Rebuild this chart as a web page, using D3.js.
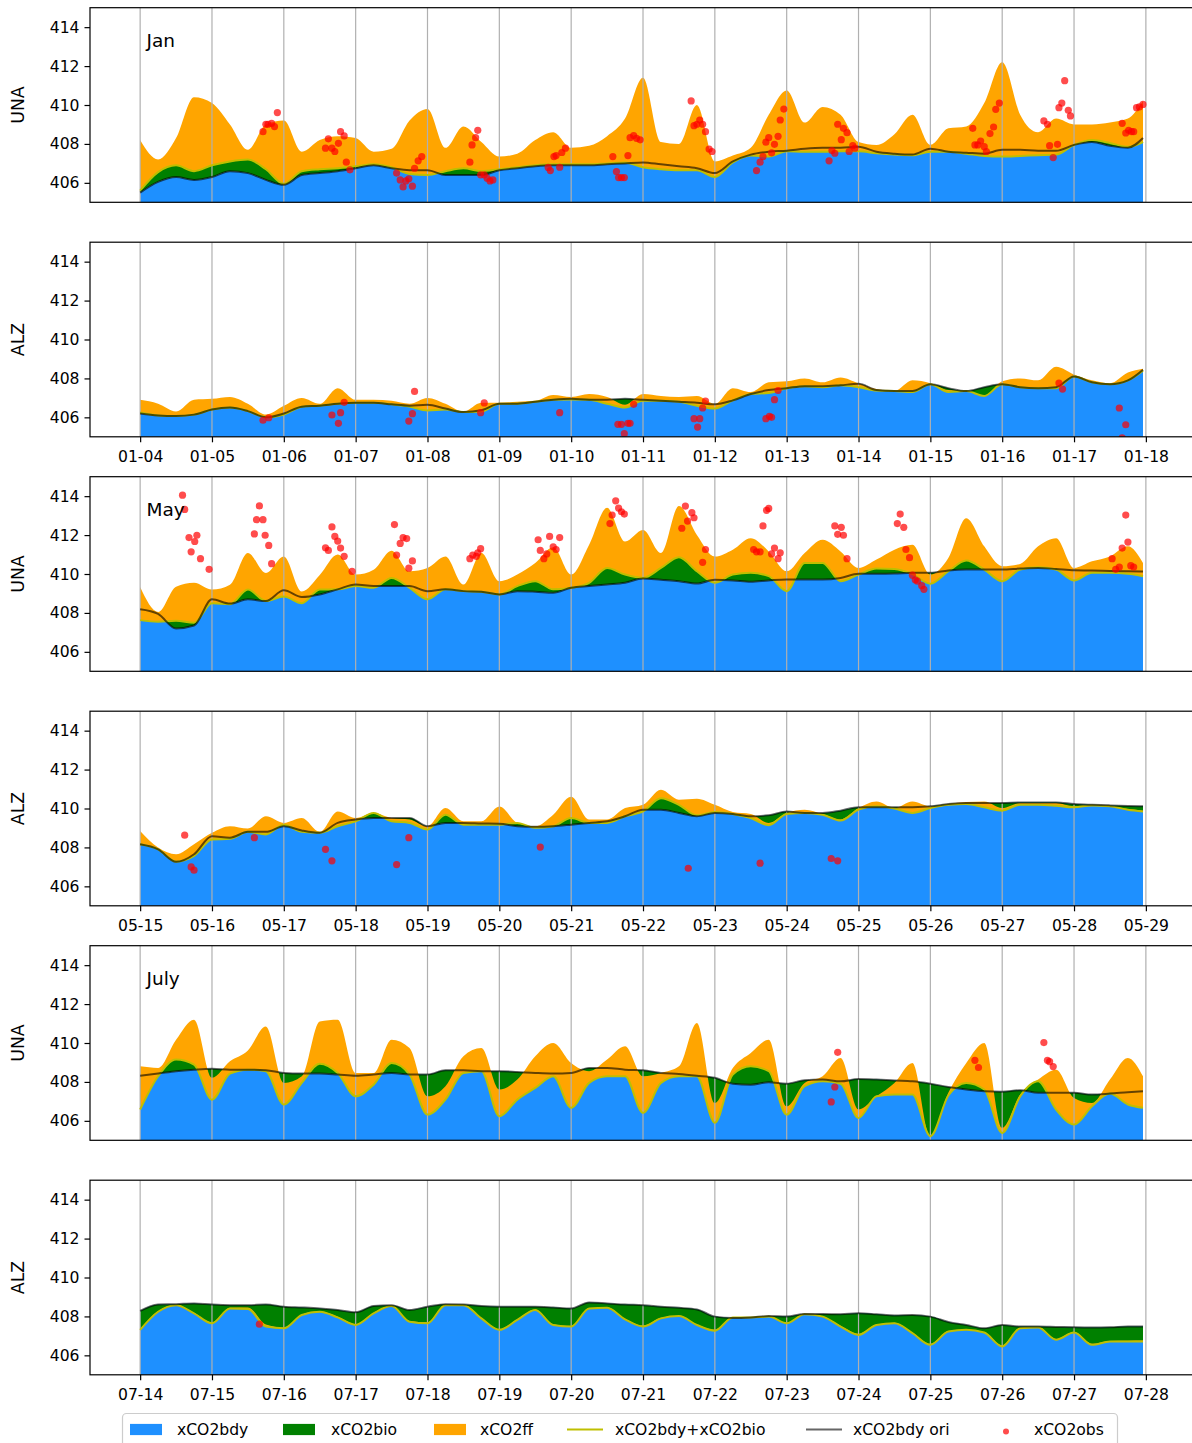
<!DOCTYPE html>
<html><head><meta charset="utf-8">
<script src="https://cdn.jsdelivr.net/npm/d3@7"></script>
<style>body{margin:0;background:#fff;} svg{display:block;font-family:"DejaVu Sans",sans-serif;}</style>
</head><body><svg id="c" width="1192" height="1443"></svg>
<script>
// ---------------- DATA ----------------
// sample times: days since the first day of each period (6-hourly)
const sampleDays = d3.range(56).map(i => i / 4).concat([13.96]);
const janTicks = ["01-04","01-05","01-06","01-07","01-08","01-09","01-10","01-11","01-12","01-13","01-14","01-15","01-16","01-17","01-18"];
const mayTicks = ["05-15","05-16","05-17","05-18","05-19","05-20","05-21","05-22","05-23","05-24","05-25","05-26","05-27","05-28","05-29"];
const julTicks = ["07-14","07-15","07-16","07-17","07-18","07-19","07-20","07-21","07-22","07-23","07-24","07-25","07-26","07-27","07-28"];
const yTicks = [406, 408, 410, 412, 414];

// Jan, UNA
const janUNA_bdy = [405.5,406.05,406.3,406.15,406.3,406.6,406.5,406.15,405.9,406.4,406.5,406.6,406.75,406.9,406.75,406.65,406.65,406.4,406.4,406.4,406.65,406.75,406.85,406.9,406.9,406.9,406.95,407.0,407.05,406.95,406.85,406.75,406.5,407.1,407.45,407.6,407.65,407.75,407.8,407.8,407.85,407.6,407.5,407.45,407.75,407.6,407.55,407.5,407.7,407.7,407.65,407.65,407.95,408.1,407.9,407.8,408.3];
const janUNA_bio = [0.1,0.5,0.6,0.45,0.6,0.5,0.7,0.55,0.05,0.2,0.2,0.15,0.1,0.05,0.05,-0.2,-0.25,0.2,0.35,0.2,0.05,0.05,0.05,0.05,0.05,0.05,0.05,0.05,-0.25,-0.25,-0.2,-0.1,-0.2,-0.05,-0.05,-0.25,-0.03,-0.15,-0.2,-0.18,-0.23,-0.08,-0.05,-0.03,-0.15,0,-0.05,-0.12,-0.35,-0.32,-0.23,-0.2,0,0.1,0.15,0.05,-0.2];
const janUNA_ff = [2.6,0.65,1.4,3.8,3.2,1.9,0.5,2.3,3.25,1.0,1.5,1.65,1.45,0.65,0.95,2.75,3.4,1.2,2.15,1.5,0.65,0.7,1.3,1.65,0.85,0.95,1.4,2.25,4.6,1.4,1.35,3.35,0.8,0.35,0.4,2.15,3.13,1.5,2.3,1.88,0.48,0.43,1.05,2.08,0.35,1.2,1.4,2.72,4.85,2.12,1.18,1.85,1.05,0.8,1.05,1.45,2.1];
const janUNA_ori = [405.5,406.05,406.3,406.15,406.3,406.6,406.5,406.15,405.9,406.4,406.5,406.6,406.75,406.9,406.75,406.65,406.65,406.4,406.4,406.4,406.65,406.75,406.85,406.9,406.9,406.9,406.95,407.0,407.05,406.95,406.85,406.75,406.5,407.1,407.45,407.6,407.65,407.75,407.8,407.8,407.85,407.6,407.5,407.45,407.75,407.6,407.55,407.5,407.7,407.7,407.65,407.65,407.95,408.1,407.9,407.8,408.3];
const janUNA_obs = [[1.71,408.63],[1.75,409.01],[1.78,409.01],[1.83,409.06],[1.87,408.89],[1.91,409.61],[2.58,407.78],[2.62,408.26],[2.67,407.78],[2.71,407.61],[2.76,408.03],[2.79,408.63],[2.84,408.41],[2.87,407.06],[2.92,406.67],[3.57,406.5],[3.62,406.15],[3.66,405.79],[3.7,406.1],[3.74,406.21],[3.79,405.83],[3.82,406.75],[3.87,407.13],[3.92,407.35],[4.59,407.06],[4.62,407.95],[4.67,408.32],[4.7,408.7],[4.74,406.41],[4.79,406.41],[4.83,406.24],[4.87,406.1],[4.91,406.15],[5.68,406.79],[5.71,406.63],[5.76,407.35],[5.79,407.4],[5.84,406.8],[5.87,407.56],[5.92,407.78],[6.58,407.35],[6.63,406.58],[6.66,406.27],[6.7,406.27],[6.74,406.27],[6.79,407.4],[6.82,408.32],[6.87,408.43],[6.91,408.29],[6.96,408.21],[7.67,410.21],[7.71,408.94],[7.75,409.01],[7.79,409.23],[7.83,409.01],[7.87,408.63],[7.92,407.74],[7.96,407.61],[8.58,406.63],[8.63,407.06],[8.67,407.35],[8.71,408.09],[8.75,408.32],[8.79,407.54],[8.83,407.98],[8.88,408.39],[8.91,409.23],[8.96,409.79],[9.59,407.13],[9.63,407.66],[9.67,407.52],[9.71,409.01],[9.76,408.22],[9.79,408.8],[9.84,408.58],[9.87,407.61],[9.92,407.91],[9.95,407.78],[11.59,408.8],[11.62,407.95],[11.66,407.95],[11.7,408.15],[11.75,407.86],[11.78,407.61],[11.83,408.53],[11.88,408.87],[11.91,409.78],[11.96,410.1],[12.58,409.18],[12.63,409.01],[12.66,407.91],[12.71,407.3],[12.77,407.98],[12.79,409.86],[12.83,410.1],[12.87,411.25],[12.92,409.73],[12.95,409.44],[13.67,409.06],[13.72,408.56],[13.76,408.7],[13.8,408.63],[13.83,408.63],[13.87,409.86],[13.91,409.9],[13.96,410.03]];

// Jan, ALZ
const janALZ_bdy = [406.2,406.1,406.07,406.14,406.4,406.5,406.32,406.0,406.2,406.55,406.6,406.7,406.75,406.75,406.67,406.6,406.65,406.45,406.27,406.36,406.7,406.7,406.8,406.9,406.95,406.9,406.9,406.95,406.9,406.85,406.8,406.75,406.67,406.87,407.2,407.4,407.5,407.6,407.6,407.65,407.72,407.4,407.35,407.35,407.7,407.5,407.35,407.55,407.7,407.55,407.5,407.55,408.1,407.8,407.7,407.9,408.45];
const janALZ_bio = [0.05,0,0,0,0,0,0,0,-0.05,0,0,0,0,0,0,-0.05,-0.3,-0.05,0,-0.06,0,0,0,0,-0.03,0,-0.2,-0.45,-0.05,0,0,-0.15,-0.22,0,0,-0.15,0,0,-0.05,0,-0.17,-0.02,0,-0.05,0,-0.2,0,-0.45,0,0,0,-0.05,0,0,0,0,-0.05];
const janALZ_ff = [0.65,0.6,0.23,0.76,0.55,0.55,0.38,0.15,0.45,0.45,0.1,0.8,0.15,0.15,0.18,0.15,0.65,0.3,0.03,0.45,0.05,0.1,0.05,0.25,0.13,0.3,0.35,0.15,0.35,0.25,0.25,0.5,0.25,0.63,0.1,0.55,0.35,0.4,0.25,0.4,0.2,0.07,0,0.6,0.05,0.1,0,0,0.15,0.45,0.4,1.1,0.1,0.1,0.05,0.4,0.1];
const janALZ_ori = [406.2,406.1,406.07,406.14,406.4,406.5,406.32,406.0,406.2,406.55,406.6,406.7,406.75,406.75,406.67,406.6,406.65,406.45,406.27,406.36,406.7,406.7,406.8,406.9,406.95,406.9,406.9,406.95,406.9,406.85,406.8,406.75,406.67,406.87,407.2,407.4,407.5,407.6,407.6,407.65,407.72,407.4,407.35,407.35,407.7,407.5,407.35,407.55,407.7,407.55,407.5,407.55,408.1,407.8,407.7,407.9,408.45];
const janALZ_obs = [[1.71,405.85],[1.79,405.98],[2.67,406.12],[2.76,405.69],[2.79,406.24],[2.84,406.77],[3.74,405.81],[3.79,406.19],[3.82,407.33],[4.74,406.24],[4.79,406.74],[5.84,406.24],[6.65,405.64],[6.7,405.64],[6.74,405.16],[6.79,405.69],[6.82,405.69],[6.87,406.67],[7.71,405.93],[7.79,405.93],[7.76,405.5],[7.83,406.48],[7.87,406.84],[8.71,405.93],[8.76,406.05],[8.79,406.0],[8.83,406.91],[8.88,407.38],[12.79,407.76],[12.84,407.45],[13.63,406.48],[13.72,405.62],[13.67,404.95]];

// May, UNA
const mayUNA_bdy = [408.19,407.95,407.2,407.35,408.7,408.48,408.7,408.61,409.16,408.82,408.95,409.21,409.46,409.38,409.38,409.38,409.12,409.21,409.12,409.09,408.95,409.12,409.09,409.04,409.29,409.38,409.46,409.55,409.77,409.7,409.63,409.51,409.7,409.67,409.6,409.67,409.72,409.72,409.72,409.8,410.01,410.01,410.02,410.06,410.06,410.18,410.23,410.23,410.23,410.28,410.31,410.26,410.19,410.18,410.16,410.14,410.13];
const mayUNA_bio = [-0.56,-0.4,0.4,0.15,-0.2,-0.03,0.5,0,-0.31,-0.32,0.25,0,-0.08,-0.09,0.42,-0.09,-0.42,0,0,0,0,0.26,0.54,0.17,0,0.17,0.85,0.42,0.03,0.61,1.23,0.63,-0.15,0.3,0.46,0.22,-0.6,0.85,0.85,-0.17,-0.04,0.27,0.24,-0.06,-0.56,-0.04,0.46,0,-0.6,-0.05,0.04,-0.03,-0.52,-0.12,-0.1,-0.13,-0.24];
const mayUNA_ff = [1.7,0.5,1.75,2.05,0.7,1.0,1.88,1.44,2.05,0.6,0.75,1.79,0.59,0.93,1.4,0.85,1.61,1.69,0.34,1.99,0.68,0.59,0.93,2.16,0.68,1.95,3.09,1.7,2.46,0.77,2.64,1.87,1.35,1.28,1.78,1.27,1.02,0.51,1.19,1.53,0.34,0.46,0.99,1.5,0.47,0.68,2.17,1.19,0.77,0.29,1.07,1.61,0.64,0.59,0.84,1.41,0.68];
const mayUNA_ori = [408.19,407.95,407.2,407.35,408.7,408.48,408.7,408.61,409.16,408.82,408.95,409.21,409.46,409.38,409.38,409.38,409.12,409.21,409.12,409.09,408.95,409.12,409.09,409.04,409.29,409.38,409.46,409.55,409.77,409.7,409.63,409.51,409.7,409.67,409.6,409.67,409.72,409.72,409.72,409.8,410.01,410.01,410.02,410.06,410.06,410.18,410.23,410.23,410.23,410.28,410.31,410.26,410.19,410.18,410.16,410.14,410.13];
const mayUNA_obs = [[0.59,414.05],[0.62,413.32],[0.68,411.87],[0.71,411.14],[0.76,411.67],[0.79,411.99],[0.84,410.79],[0.96,410.24],[1.59,412.06],[1.62,412.79],[1.66,413.5],[1.71,412.79],[1.74,411.99],[1.79,411.47],[1.83,410.53],[2.58,411.35],[2.62,411.21],[2.67,412.42],[2.71,411.93],[2.75,411.69],[2.79,411.33],[2.84,410.91],[2.95,410.13],[3.54,412.54],[3.57,410.97],[3.62,411.57],[3.66,411.87],[3.71,411.82],[3.74,410.3],[3.79,410.67],[4.59,410.79],[4.63,410.97],[4.68,410.91],[4.7,411.09],[4.74,411.3],[5.54,411.76],[5.57,411.21],[5.62,410.79],[5.66,411.03],[5.7,411.93],[5.75,411.4],[5.79,411.26],[5.84,411.87],[6.54,412.59],[6.57,413.03],[6.62,413.76],[6.66,413.39],[6.7,413.2],[6.74,413.08],[7.54,412.35],[7.59,413.49],[7.62,412.72],[7.68,413.15],[7.71,412.89],[7.83,410.6],[7.87,411.26],[8.54,411.26],[8.58,411.14],[8.63,411.14],[8.67,412.47],[8.72,413.27],[8.75,413.37],[8.79,411.03],[8.83,411.33],[8.88,410.79],[8.91,411.09],[9.67,412.47],[9.71,412.04],[9.76,412.4],[9.79,411.99],[9.84,410.79],[10.54,412.59],[10.58,413.08],[10.63,412.4],[10.66,411.26],[10.71,410.84],[10.75,409.94],[10.79,409.7],[10.82,409.63],[10.88,409.4],[10.91,409.21],[13.53,410.79],[13.58,410.24],[13.63,410.36],[13.67,411.33],[13.72,413.03],[13.75,411.64],[13.79,410.43],[13.83,410.36]];

// May, ALZ
const mayALZ_bdy = [408.16,407.9,407.26,407.65,408.58,408.5,408.8,408.8,409.09,408.87,408.75,409.26,409.43,409.51,409.51,409.51,409.09,409.26,409.26,409.23,409.21,409.09,409.06,409.09,409.17,409.26,409.34,409.6,409.94,409.94,409.77,409.6,409.77,409.72,409.6,409.65,409.85,409.77,409.77,409.89,410.07,410.06,410.06,410.07,410.11,410.23,410.28,410.28,410.28,410.31,410.31,410.31,410.23,410.19,410.16,410.13,410.11];
const mayALZ_bio = [0,0,0.01,-0.09,-0.17,-0.06,0,-0.13,0.08,-0.07,0,-0.17,-0.09,0.26,-0.17,-0.25,-0.17,0.42,-0.09,-0.06,-0.04,0.17,-0.05,0,0.34,0,-0.08,0,-0.09,0.59,0.42,0.05,0.05,0,-0.09,-0.51,-0.13,0,-0.09,-0.51,-0.13,0.05,-0.06,-0.3,-0.09,-0.04,-0.05,-0.22,-0.39,-0.12,-0.12,-0.17,-0.17,-0.03,-0.05,-0.19,-0.26];
const mayALZ_ff = [0.68,0.09,0.38,0.6,0.34,0.65,0.17,0.93,0.09,0.71,0.05,0.76,0.17,0,0.17,0.17,0.17,0.34,0.17,0.17,0.93,0,0.08,0.59,1.09,0.17,0.17,0.42,0.34,0.43,0.26,0.85,0.37,0.1,0.21,0.12,0.05,0.17,0.04,0.05,0.08,0.25,0.02,0.59,0.09,0.04,0.1,0.3,0.13,0.09,0.09,0.14,0.05,0.03,0,0.03,0.04];
const mayALZ_ori = [408.16,407.9,407.26,407.65,408.58,408.5,408.8,408.8,409.09,408.87,408.75,409.26,409.43,409.51,409.51,409.51,409.09,409.26,409.26,409.23,409.21,409.09,409.06,409.09,409.17,409.26,409.34,409.6,409.94,409.94,409.77,409.6,409.77,409.72,409.6,409.65,409.85,409.77,409.77,409.89,410.07,410.06,410.06,410.07,410.11,410.23,410.28,410.28,410.28,410.31,410.31,410.31,410.23,410.19,410.16,410.13,410.11];
const mayALZ_obs = [[0.62,408.63],[0.71,407.0],[0.75,406.83],[1.59,408.5],[2.58,407.9],[2.67,407.31],[3.57,407.12],[3.74,408.5],[5.57,408.02],[7.63,406.93],[8.63,407.19],[9.62,407.43],[9.71,407.31]];

// July, UNA
const julUNA_bdy = [408.32,408.43,408.55,408.63,408.68,408.63,408.63,408.6,408.46,408.43,408.43,408.38,408.32,408.38,408.46,408.38,408.38,408.6,408.6,408.55,408.55,408.51,408.46,408.43,408.46,408.72,408.72,408.63,408.6,408.46,408.41,408.32,408.21,407.91,407.86,407.98,407.91,408.09,408.12,408.03,408.15,408.12,408.07,408.03,407.91,407.74,407.61,407.52,407.5,407.57,407.44,407.44,407.44,407.35,407.4,407.47,407.52];
const julUNA_bio = [-1.74,-0.14,0.6,0.26,-1.59,-0.2,0,-0.05,-1.62,-0.48,0.51,0.08,-1.06,-0.52,0.51,0,-2.06,-1.51,-0.14,0,-2.31,-1.42,-0.77,-0.14,-1.79,-0.77,-0.43,-0.34,-2.19,-0.51,-0.12,-0.03,-2.31,0.47,0.94,0.57,-1.59,-0.31,-0.09,-0.12,-2.0,-0.86,-0.72,-0.68,-2.7,-0.44,0.34,0.09,-2.12,-0.31,0.59,-0.86,-1.63,-0.6,0,-0.63,-0.85];
const julUNA_ff = [2.22,0.43,1.02,2.31,1.12,0.63,0.99,2.3,1.11,0.34,2.17,2.74,1.2,0.6,1.2,1.36,0.94,0.69,0.86,1.19,1.37,1.03,1.63,1.71,2.3,0.6,0.86,1.54,1.88,0.51,0.51,2.74,1.02,0.34,0.69,1.62,0.43,0.17,0.26,1.32,0.43,0,0.6,1.62,0,0.14,1.02,2.39,0.26,0.09,0.09,2.05,1.37,0.17,0.72,2.39,1.62];
const julUNA_ori = [408.32,408.43,408.55,408.63,408.68,408.63,408.63,408.6,408.46,408.43,408.43,408.38,408.32,408.38,408.46,408.38,408.38,408.6,408.6,408.55,408.55,408.51,408.46,408.43,408.46,408.72,408.72,408.63,408.6,408.46,408.41,408.32,408.21,407.91,407.86,407.98,407.91,408.09,408.12,408.03,408.15,408.12,408.07,408.03,407.91,407.74,407.61,407.52,407.5,407.57,407.44,407.44,407.44,407.35,407.4,407.47,407.52];
const julUNA_obs = [[9.62,406.97],[9.67,407.74],[9.71,409.52],[11.62,409.11],[11.67,408.74],[12.58,410.02],[12.63,409.11],[12.66,409.04],[12.71,408.79]];

// July, ALZ
const julALZ_bdy = [408.28,408.61,408.63,408.67,408.61,408.58,408.58,408.61,408.5,408.46,408.41,408.33,408.21,408.53,408.58,408.33,408.5,408.63,408.61,408.53,408.5,408.5,408.5,408.46,408.41,408.72,408.67,408.61,408.58,408.5,408.44,408.36,407.99,407.92,407.95,408.02,407.99,408.12,408.12,408.11,408.16,408.11,408.05,408.07,407.99,407.71,407.56,407.39,407.56,407.48,407.48,407.46,407.44,407.43,407.44,407.48,407.48];
const julALZ_bio = [-0.97,-0.37,-0.05,-0.51,-0.96,-0.17,-0.2,-1.13,-1.11,-0.39,-0.17,-0.38,-0.65,-0.37,-0.05,-0.6,-0.85,-0.05,-0.03,-0.63,-1.19,-0.68,-0.17,-0.9,-0.93,-0.31,-0.23,-0.76,-1.1,-0.6,-0.42,-0.8,-0.72,0.03,-0.01,-0.03,-0.34,-0.01,-0.13,-0.63,-1.11,-0.55,-0.4,-0.93,-1.45,-0.49,-0.25,-0.22,-1.1,-0.09,-0.05,-0.66,-0.27,-0.89,-0.73,-0.77,-0.77];
const julALZ_ff = [0.03,0.02,0.02,0.03,0.04,0.03,0.08,0.1,0.03,0.02,0.02,0.03,0.04,0.03,0.02,0.03,0.05,0.02,0.02,0.03,0.04,0.03,0.02,0.04,0.03,0.02,0.02,0.03,0.05,0.03,0.02,0.03,0.05,0.02,0.02,0.02,0.03,0.02,0.02,0.04,0.06,0.03,0.02,0.03,0.05,0.03,0.02,0.02,0.06,0.02,0.02,0.04,0.03,0.05,0.03,0.04,0.05];
const julALZ_ori = [408.28,408.61,408.63,408.67,408.61,408.58,408.58,408.61,408.5,408.46,408.41,408.33,408.21,408.53,408.58,408.33,408.5,408.63,408.61,408.53,408.5,408.5,408.5,408.46,408.41,408.72,408.67,408.61,408.58,408.5,408.44,408.36,407.99,407.92,407.95,408.02,407.99,408.12,408.12,408.11,408.16,408.11,408.05,408.07,407.99,407.71,407.56,407.39,407.56,407.48,407.48,407.46,407.44,407.43,407.44,407.48,407.48];
const julALZ_obs = [[1.66,407.6]];

const legendLabels = ["xCO2bdy","xCO2bio","xCO2ff","xCO2bdy+xCO2bio","xCO2bdy ori","xCO2obs"];

// ---------------- CHART ----------------
const panels = [
  {site:"UNA", month:"Jan", bdy:janUNA_bdy, bio:janUNA_bio, ff:janUNA_ff, ori:janUNA_ori, obs:janUNA_obs, ticks:null},
  {site:"ALZ", month:null, bdy:janALZ_bdy, bio:janALZ_bio, ff:janALZ_ff, ori:janALZ_ori, obs:janALZ_obs, ticks:janTicks},
  {site:"UNA", month:"May", bdy:mayUNA_bdy, bio:mayUNA_bio, ff:mayUNA_ff, ori:mayUNA_ori, obs:mayUNA_obs, ticks:null},
  {site:"ALZ", month:null, bdy:mayALZ_bdy, bio:mayALZ_bio, ff:mayALZ_ff, ori:mayALZ_ori, obs:mayALZ_obs, ticks:mayTicks},
  {site:"UNA", month:"July", bdy:julUNA_bdy, bio:julUNA_bio, ff:julUNA_ff, ori:julUNA_ori, obs:julUNA_obs, ticks:null},
  {site:"ALZ", month:null, bdy:julALZ_bdy, bio:julALZ_bio, ff:julALZ_ff, ori:julALZ_ori, obs:julALZ_obs, ticks:julTicks}
];

const C = {blue:"#1e90ff", green:"#008000", orange:"#ffa500", yellow:"#bfbf00", ori:"#000", obs:"#ff0000", grid:"#b0b0b0"};
const plotLeft = 90, plotRight = 1193, panelH = 194.6;
const panelTops = [7.7, 242.2, 476.7, 711.2, 945.7, 1180.2];
const x = d3.scaleLinear().domain([-0.698, 14.656]).range([plotLeft, plotRight]);
const curve = d3.curveMonotoneX;
const svg = d3.select("#c");
const defs = svg.append("defs");

panels.forEach((p, k) => {
  const top = panelTops[k], bottom = top + panelH;
  const y = d3.scaleLinear().domain([405, 415]).range([bottom, top]);
  const clipId = "clip" + k;
  defs.append("clipPath").attr("id", clipId).append("rect")
    .attr("x", plotLeft).attr("y", top).attr("width", plotRight - plotLeft).attr("height", panelH);
  const rows = sampleDays.map((t, i) => ({t, bdy: p.bdy[i], bio: p.bio[i], ff: p.ff[i], ori: p.ori[i]}));
  const g = svg.append("g");
  const pg = g.append("g").attr("clip-path", `url(#${clipId})`);

  pg.append("path").datum(rows).attr("fill", C.blue)
    .attr("d", d3.area().curve(curve).x(d => x(d.t)).y0(bottom + 5).y1(d => y(d.bdy)));
  pg.append("path").datum(rows).attr("fill", C.green)
    .attr("d", d3.area().curve(curve).x(d => x(d.t)).y0(d => y(d.bdy)).y1(d => y(d.bdy + d.bio)));
  pg.append("path").datum(rows).attr("fill", C.orange)
    .attr("d", d3.area().curve(curve).x(d => x(d.t)).y0(d => y(d.bdy + d.bio)).y1(d => y(d.bdy + d.bio + d.ff)));

  // vertical grid
  pg.selectAll("line.grid").data(d3.range(15)).join("line").attr("class", "grid")
    .attr("x1", d => x(d)).attr("x2", d => x(d)).attr("y1", top).attr("y2", bottom)
    .attr("stroke", C.grid).attr("stroke-width", 1.2);

  pg.append("path").datum(rows).attr("fill", "none").attr("stroke", C.yellow).attr("stroke-width", 2)
    .attr("stroke-linejoin", "round")
    .attr("d", d3.line().curve(curve).x(d => x(d.t)).y(d => y(d.bdy + d.bio)));
  pg.append("path").datum(rows).attr("fill", "none").attr("stroke", C.ori).attr("stroke-opacity", 0.6)
    .attr("stroke-width", 2).attr("stroke-linejoin", "round")
    .attr("d", d3.line().curve(curve).x(d => x(d.t)).y(d => y(d.ori)));

  pg.selectAll("circle.obs").data(p.obs).join("circle").attr("class", "obs")
    .attr("cx", d => x(d[0])).attr("cy", d => y(d[1])).attr("r", 3.6)
    .attr("fill", C.obs).attr("fill-opacity", 0.7);

  // frame
  g.append("rect").attr("x", plotLeft).attr("y", top).attr("width", plotRight - plotLeft).attr("height", panelH)
    .attr("fill", "none").attr("stroke", "#000").attr("stroke-width", 1.2);

  // y axis
  const ya = g.append("g").attr("transform", `translate(${plotLeft},0)`)
    .call(d3.axisLeft(y).tickValues(yTicks).tickSize(5.5).tickPadding(5).tickFormat(d3.format("d")));
  ya.select(".domain").remove();
  ya.selectAll("line").attr("stroke", "#000").attr("stroke-width", 1.2);
  ya.selectAll("text").attr("font-size", 15.6).attr("font-family", "DejaVu Sans").attr("fill", "#000");

  if (p.ticks) {
    const xa = g.append("g").attr("transform", `translate(0,${bottom})`)
      .call(d3.axisBottom(x).tickValues(d3.range(15)).tickSize(5.5).tickPadding(9).tickFormat(d => p.ticks[d]));
    xa.select(".domain").remove();
    xa.selectAll("line").attr("stroke", "#000").attr("stroke-width", 1.2);
    xa.selectAll("text").attr("font-size", 15.6).attr("font-family", "DejaVu Sans").attr("fill", "#000");
  }

  g.append("text").attr("transform", `translate(24,${(top + bottom) / 2}) rotate(-90)`)
    .attr("text-anchor", "middle").attr("font-size", 17.3).attr("fill", "#000").text(p.site);

  if (p.month) {
    g.append("text").attr("x", 146.5).attr("y", top + 39.3).attr("font-size", 18.5).attr("fill", "#000").text(p.month);
  }
});

// legend
const lg = svg.append("g");
lg.append("rect").attr("x", 122.5).attr("y", 1413.5).attr("width", 995).attr("height", 44).attr("rx", 4)
  .attr("fill", "#fff").attr("fill-opacity", 0.8).attr("stroke", "#cccccc").attr("stroke-width", 1.2);
const ly = 1429.5;
const items = [
  {type:"patch", color:C.blue, hx:130, tx:177},
  {type:"patch", color:C.green, hx:283, tx:331},
  {type:"patch", color:C.orange, hx:434, tx:480},
  {type:"line", color:C.yellow, op:1, hx:567, tx:615},
  {type:"line", color:C.ori, op:0.6, hx:806, tx:853},
  {type:"dot", color:C.obs, hx:990, tx:1034}
];
items.forEach((it, i) => {
  if (it.type === "patch") {
    lg.append("rect").attr("x", it.hx).attr("y", ly - 5.6).attr("width", 32).attr("height", 11.2).attr("fill", it.color);
  } else if (it.type === "line") {
    lg.append("line").attr("x1", it.hx).attr("x2", it.hx + 36).attr("y1", ly).attr("y2", ly)
      .attr("stroke", it.color).attr("stroke-opacity", it.op).attr("stroke-width", 2);
  } else {
    lg.append("circle").attr("cx", it.hx + 16).attr("cy", ly + 2).attr("r", 3).attr("fill", it.color).attr("fill-opacity", 0.7);
  }
  lg.append("text").attr("x", it.tx).attr("y", ly + 5.6).attr("font-size", 15.6).attr("fill", "#000").text(legendLabels[i]);
});
</script></body></html>
